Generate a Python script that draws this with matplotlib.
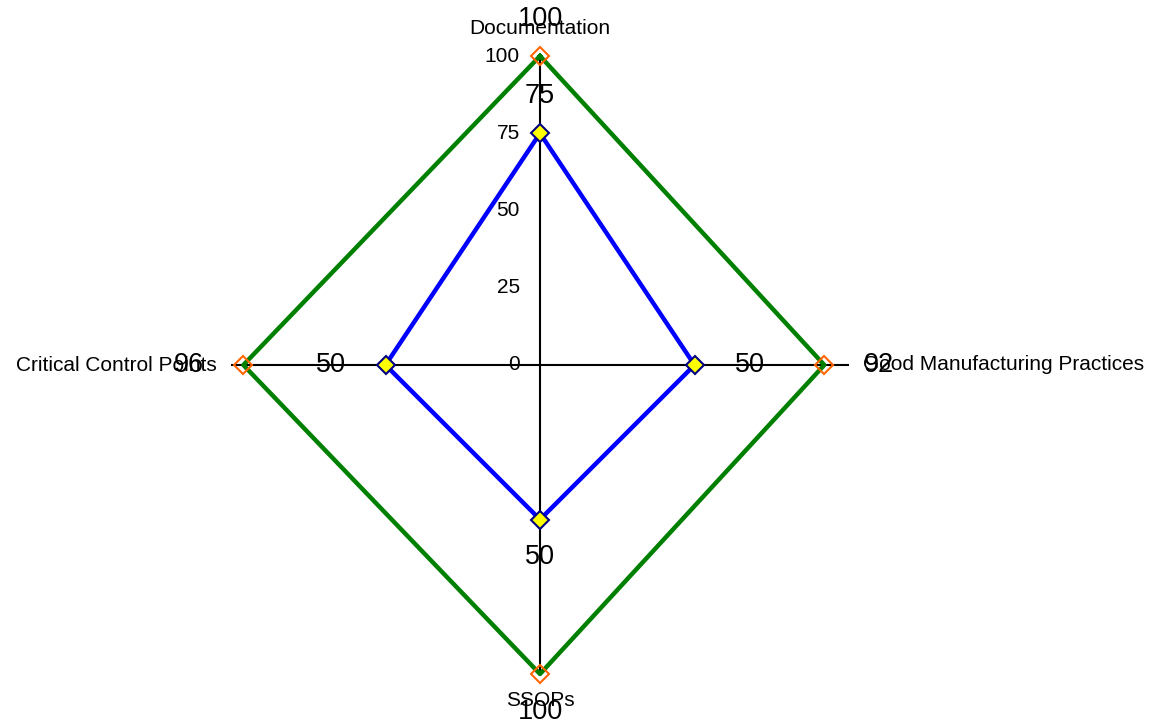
import numpy as np
import matplotlib
matplotlib.use("Agg")
import matplotlib.pyplot as plt

plt.rcParams['font.family'] = ['Liberation Sans', 'DejaVu Sans']

categories = ["Documentation", "Good Manufacturing Practices", "SSOPs", "Critical Control Points"]
target = [100, 92, 100, 96]
actual = [75, 50, 50, 50]
ticks = [0, 25, 50, 75, 100]

W, H = 1163, 727
cx, cy, R = 540, 365, 309

fig = plt.figure(figsize=(W / 100, H / 100), dpi=100)
ax = fig.add_axes([(cx - R) / W, (H - cy - R) / H, 2 * R / W, 2 * R / H], projection='polar')
ax.set_theta_offset(np.pi / 2)
ax.set_theta_direction(-1)
ax.set_ylim(0, 100)
ax.axis('off')

n = len(categories)
theta = np.arange(n) * 2 * np.pi / n

# spokes
for t in theta:
    ax.plot([t, t], [0, 100], color='black', lw=1.5, zorder=1)

# series
th = np.append(theta, theta[0])
ax.plot(th, target + target[:1], color='#008000', lw=3.2, zorder=2, clip_on=False)
ax.plot(theta, target, ls='none', marker='D', ms=9, mfc='none', mec='#ff6600', mew=1.5,
        zorder=4, clip_on=False)
ax.plot(th, actual + actual[:1], color='#0000ff', lw=3.2, zorder=2, clip_on=False)
ax.plot(theta, actual, ls='none', marker='D', ms=9, mfc='#ffff00', mec='#000080', mew=1.5,
        zorder=4, clip_on=False)

# radial tick labels on first spoke
for v in ticks:
    ax.annotate(str(v), (0, v), xytext=(-20, 0), textcoords='offset pixels',
                ha='right', va='center', fontsize=15, annotation_clip=False)

# category labels and value labels
cat_off = [(0, 28, 'center'), (14, 0, 'left'), (0, -26, 'center'), (-14, 0, 'right')]
val_off = [(0, 37), (55, 0), (0, -38), (-55, 0)]
for i in range(n):
    dx, dy, ha = cat_off[i]
    ax.annotate(categories[i], (theta[i], 100), xytext=(dx, dy), textcoords='offset pixels',
                ha=ha, va='center', fontsize=15, annotation_clip=False)
    for series in (target, actual):
        ax.annotate(str(series[i]), (theta[i], series[i]), xytext=val_off[i],
                    textcoords='offset pixels', ha='center', va='center', fontsize=19.5,
                    annotation_clip=False)

fig.savefig("out.png", dpi=100)
